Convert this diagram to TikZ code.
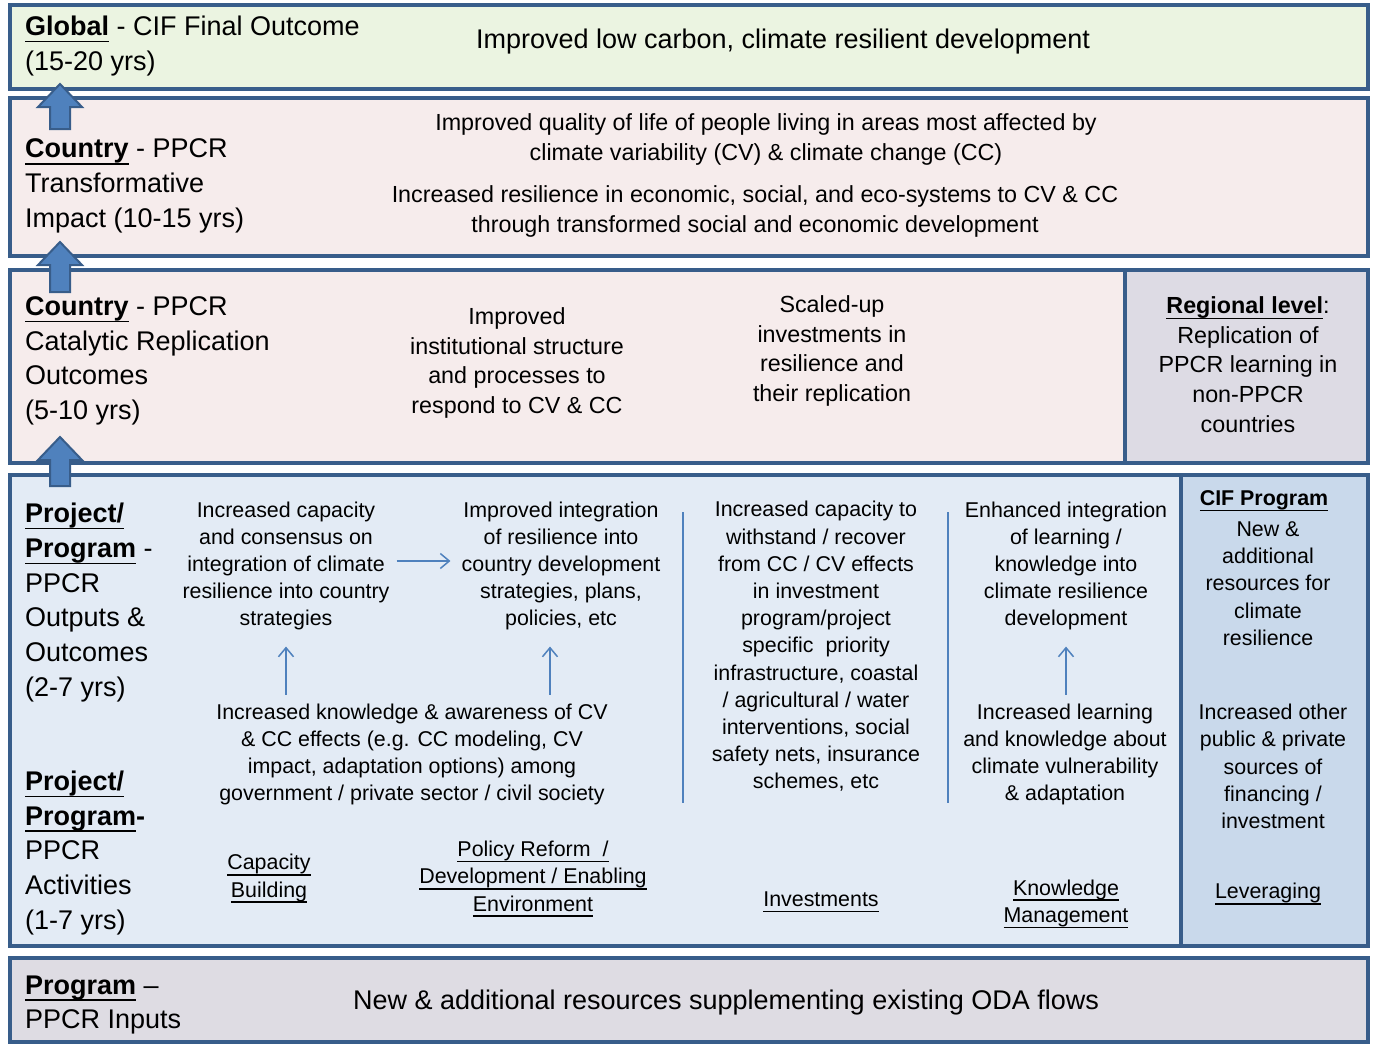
\documentclass[tikz,border=0pt]{standalone}
\usepackage{fontspec}
\setmainfont{Liberation Sans}
\usetikzlibrary{arrows.meta}
\definecolor{bordc}{HTML}{385D8A}
\definecolor{arrfill}{HTML}{4F81BD}
\definecolor{arrbord}{HTML}{385D8A}
\definecolor{thinc}{HTML}{4F81BD}
\definecolor{fglobal}{HTML}{EBF4E1}
\definecolor{fpink}{HTML}{F6ECEC}
\definecolor{fregion}{HTML}{DDDBE4}
\definecolor{fproj}{HTML}{E3EBF5}
\definecolor{fcif}{HTML}{C9D9EB}
\definecolor{finput}{HTML}{DEDCE3}
\newcommand{\fbig}{\fontsize{27}{34.7}\selectfont}
\newcommand{\fmid}{\fontsize{23.3}{29.7}\selectfont}
\newcommand{\fsml}{\fontsize{21.4}{27.2}\selectfont}
\newcommand{\myul}[1]{\setbox0\hbox{#1}\rlap{\rule[\dimexpr-0.19em-1.6pt\relax]{\wd0}{1.6pt}}\box0}
\newcommand{\bu}[1]{\textbf{\myul{#1}}}
\tikzset{
  band/.style={draw=bordc, line width=4pt},
  blockarr/.style={draw=arrbord, fill=arrfill, line width=2pt, line join=miter},
  thinarr/.style={draw=thinc, line width=1.5pt, -{Straight Barb[length=9pt,width=15pt]}},
  sepline/.style={draw=thinc, line width=1.5pt},
  lbl/.style={anchor=west, inner sep=0pt, align=left, font=\fbig},
  big/.style={inner sep=0pt, align=center, font=\fbig},
  mid/.style={inner sep=0pt, align=center, font=\fmid},
  sml/.style={inner sep=0pt, align=center, font=\fsml},
}
\begin{document}
\begin{tikzpicture}[x=1pt,y=-1pt]
\useasboundingbox[fill=white] (0,0) rectangle (1373,1045);
% bands
\draw[band, fill=fglobal] (10,5) rectangle (1368,89);
\draw[band, fill=fpink] (10,98) rectangle (1368,256);
\draw[band, fill=fpink] (10,270) rectangle (1125,463);
\draw[band, fill=fregion] (1125,270) rectangle (1368,463);
\draw[band, fill=fproj] (10,475) rectangle (1181,946);
\draw[band, fill=fcif] (1181,475) rectangle (1368,946);
\draw[band, fill=finput] (10,958) rectangle (1368,1042);
% block arrows
\draw[blockarr] (50,129) -- (50,107) -- (38,107) -- (60,84) -- (82,107) -- (70,107) -- (70,129) -- cycle;
\draw[blockarr] (50,292) -- (50,265) -- (38,265) -- (60,242) -- (82,265) -- (70,265) -- (70,292) -- cycle;
\draw[blockarr] (50,486) -- (50,460) -- (38,460) -- (60,437) -- (82,460) -- (70,460) -- (70,486) -- cycle;
% band 1
\node[lbl] (l1) at (25,46) {\bu{Global} - CIF Final Outcome\\(15-20 yrs)};
\node[big] (g1) at (783,42) {Improved low carbon, climate resilient development};
% band 2
\node[lbl] (l2) at (25,186) {\bu{Country} - PPCR\\Transformative\\Impact (10-15 yrs)};
\node[mid] (t2a) at (766,139.5) {Improved quality of life of people living in areas most affected by\\climate variability (CV) \& climate change (CC)};
\node[mid] (t2b) at (755,211.5) {Increased resilience in economic, social, and eco-systems to CV \& CC\\through transformed social and economic development};
% band 3
\node[lbl] (l3) at (25,361) {\bu{Country} - PPCR\\Catalytic Replication\\Outcomes\\(5-10 yrs)};
\node[mid] (t3a) at (517,363) {Improved\\institutional structure\\and processes to\\respond to CV \& CC};
\node[mid] (t3b) at (832,351) {Scaled-up\\investments in\\resilience and\\their replication};
\node[mid] (r3) at (1248,364.5) {\bu{Regional level}:\\Replication of\\PPCR learning in\\non-PPCR\\countries};
% band 4 left labels
\node[lbl] (l4a) at (25,602.5) {\bu{Project/}\\\bu{Program} -\\PPCR\\Outputs \&\\Outcomes\\(2-7 yrs)};
\node[lbl] (l4b) at (25,853) {\bu{Project/}\\\bu{Program}\textbf{-}\\PPCR\\Activities\\(1-7 yrs)};
% band 4 outcomes
\node[sml] (c1) at (286,566) {Increased capacity\\and consensus on\\integration of climate\\resilience into country\\strategies};
\node[sml] (c2) at (561,566) {Improved integration\\of resilience into\\country development\\strategies, plans,\\policies, etc};
\node[sml] (c3) at (816,646.5) {Increased capacity to\\withstand / recover\\from CC / CV effects\\in investment\\program/project\\specific\ \ priority\\infrastructure, coastal\\/ agricultural / water\\interventions, social\\safety nets, insurance\\schemes, etc};
\node[sml] (c4) at (1066,566) {Enhanced integration\\of learning /\\knowledge into\\climate resilience\\development};
\node[sml] (k1) at (412,754.5) {Increased knowledge \& awareness of CV\\\& CC effects (e.g. CC modeling, CV\\impact, adaptation options) among\\government / private sector / civil society};
\node[sml] (k2) at (1065,754.5) {Increased learning\\and knowledge about\\climate vulnerability\\\& adaptation};
% activities
\node[sml] (a1) at (269,878.5) {\myul{Capacity}\\\myul{Building}};
\node[sml] (a2) at (533,879) {\myul{Policy Reform\ \ /}\\\myul{Development / Enabling}\\\myul{Environment}};
\node[sml] (a3) at (821,902) {\myul{Investments}};
\node[sml] (a4) at (1066,904) {\myul{Knowledge}\\\myul{Management}};
% CIF program column
\node[sml] (cifh) at (1264,501) {\bu{CIF Program}};
\node[sml] (cift) at (1268,583.5) {New \&\\additional\\resources for\\climate\\resilience};
\node[sml] (cifo) at (1273,766.5) {Increased other\\public \& private\\sources of\\financing /\\investment};
\node[sml] (cifl) at (1268,894) {\myul{Leveraging}};
% band 5
\node[lbl] (l5) at (25,1005) {\bu{Program} --\\PPCR Inputs};
\node[big] (t5) at (726,1003) {New \& additional resources supplementing existing ODA flows};
% connectors in band 4
\draw[thinarr] ([xshift=7pt]c1.east |- 0,561) -- ([xshift=-11pt]c2.west |- 0,561);
\draw[thinarr] (c1.south |- k1.north) ++(0,-9) -- ([yshift=-16pt]c1.south);
\draw[thinarr] ([xshift=-11pt]c2.south |- k1.north) ++(0,-9) -- ([xshift=-11pt,yshift=-16pt]c2.south);
\draw[thinarr] (c4.south |- k2.north) ++(0,-9) -- ([yshift=-16pt]c4.south);
\draw[sepline] (683,512) -- (683,803);
\draw[sepline] (948,512) -- (948,803);
\end{tikzpicture}
\end{document}
